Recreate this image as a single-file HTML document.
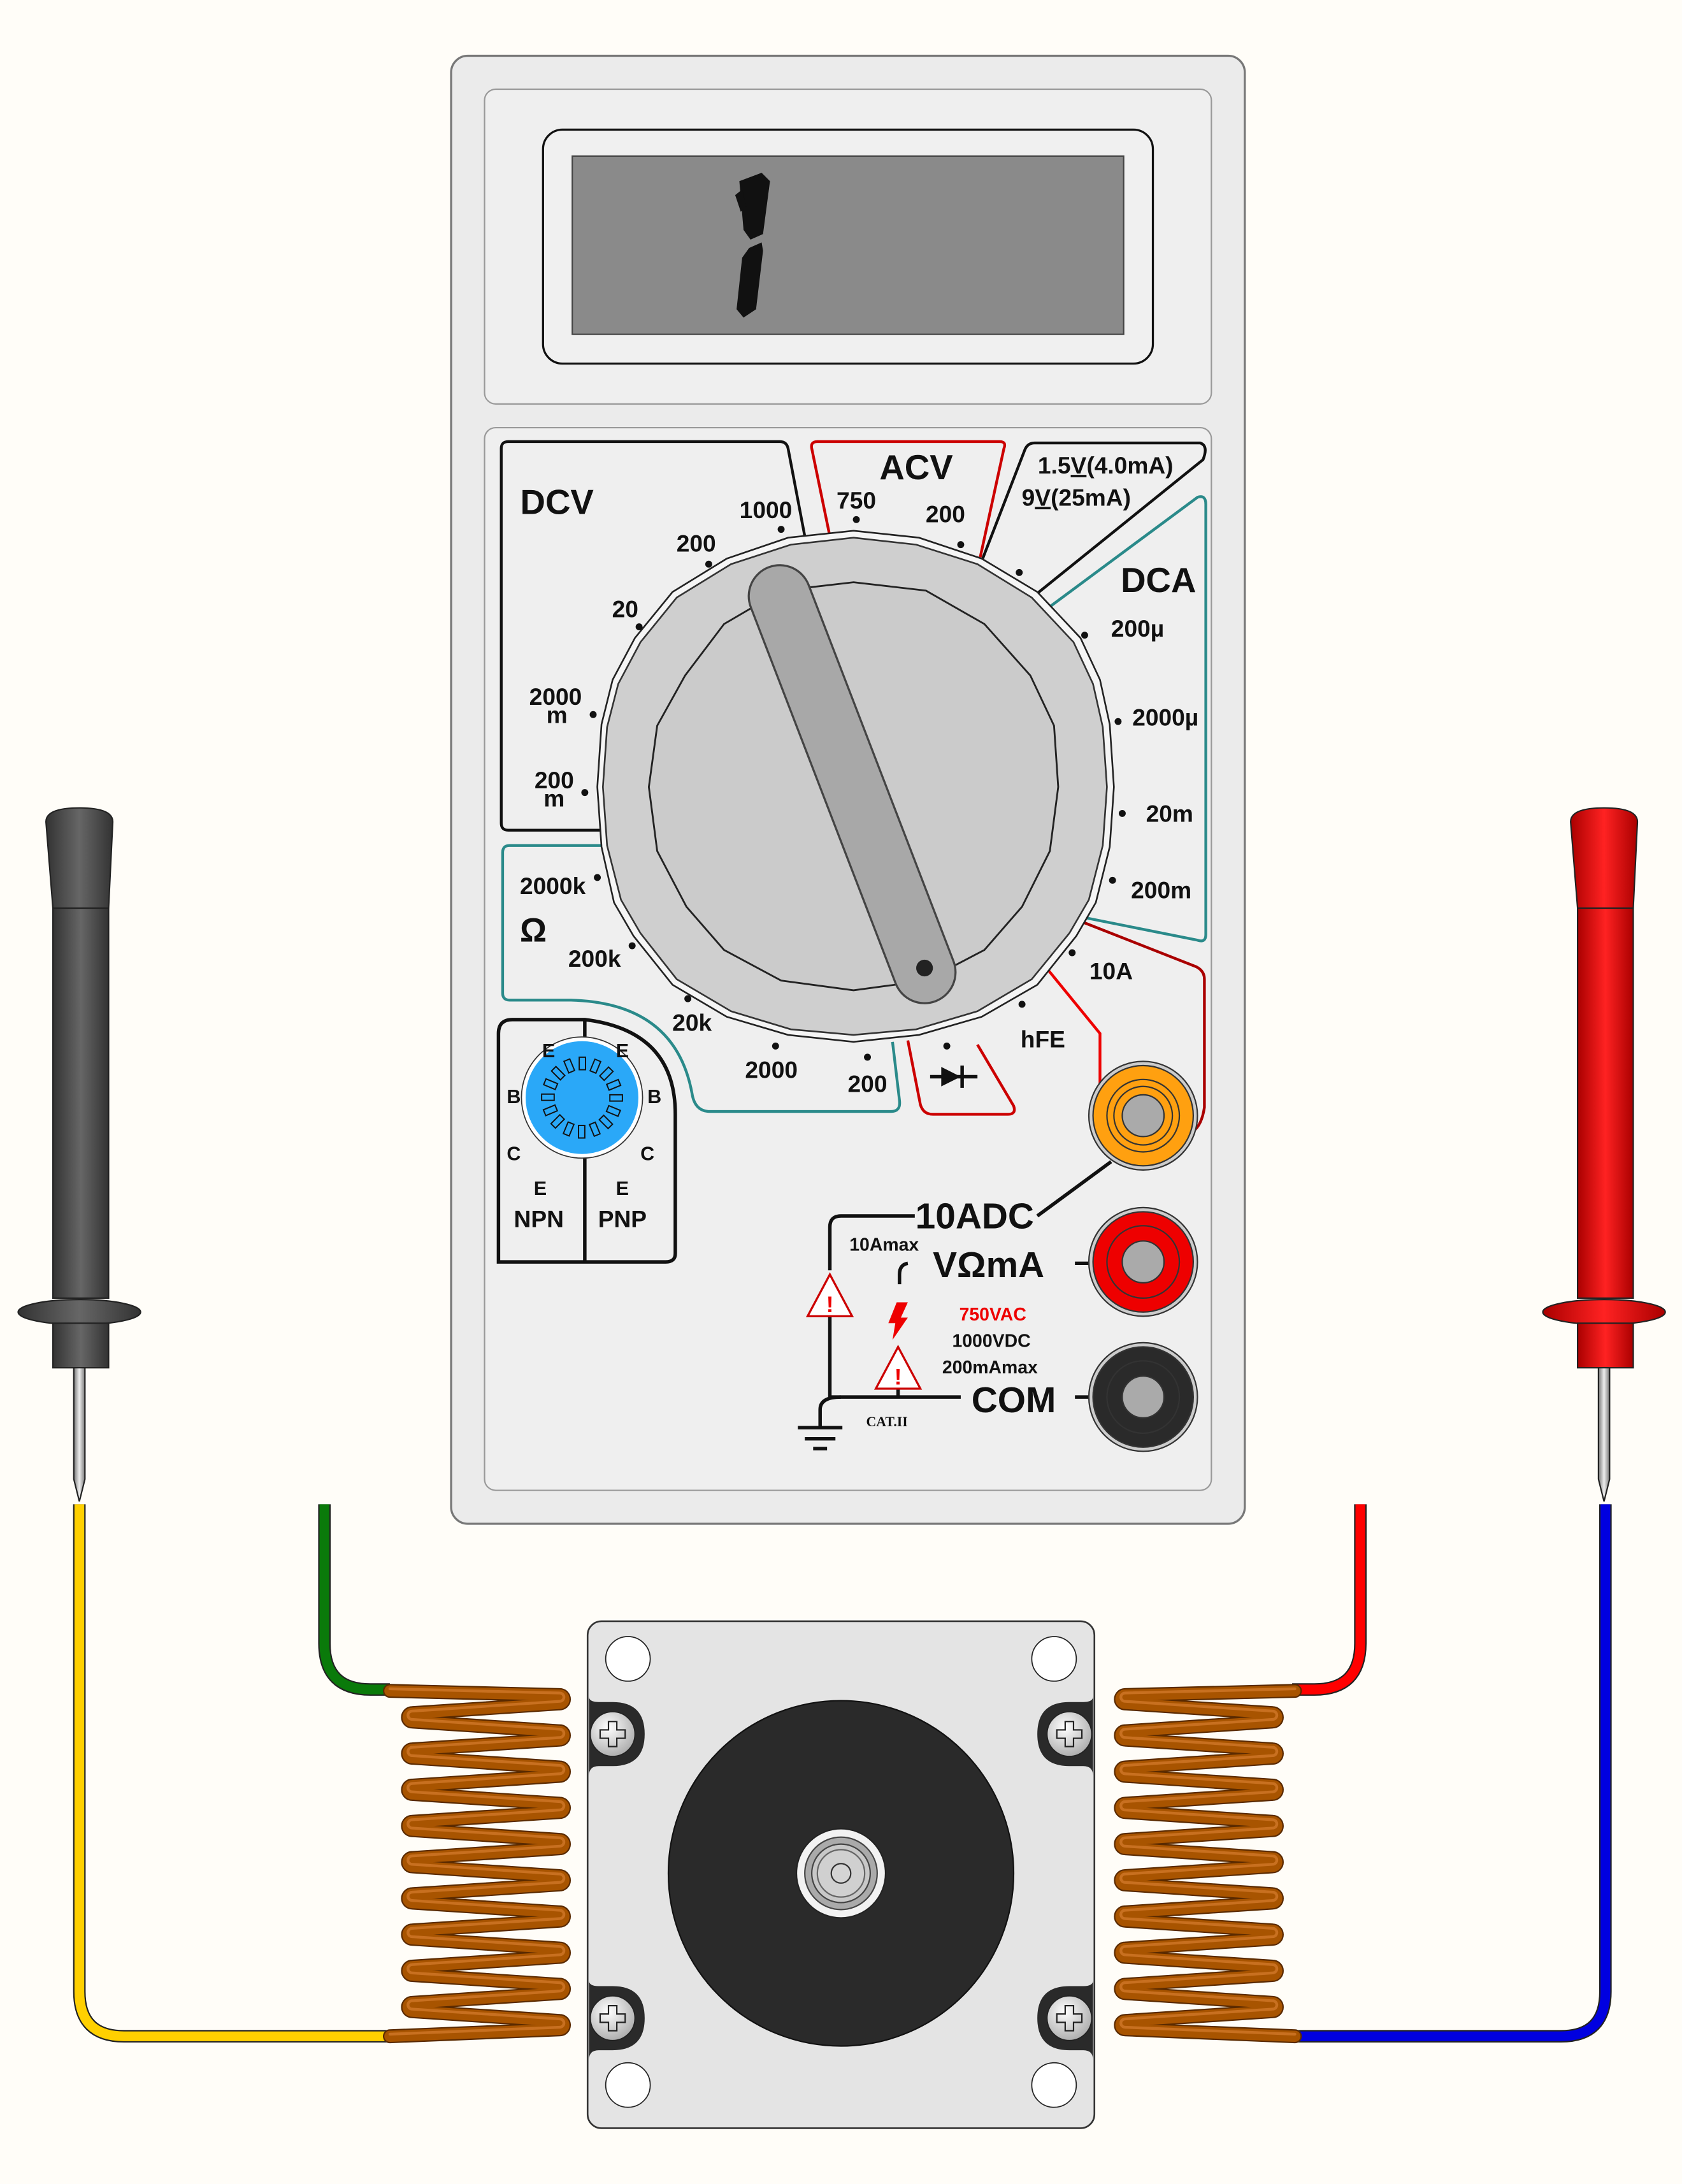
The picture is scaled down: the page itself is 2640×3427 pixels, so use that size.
<!DOCTYPE html>
<html><head><meta charset="utf-8"><style>
html,body{margin:0;padding:0;background:#fffdf8}
svg{display:block}
text{font-family:"Liberation Sans",sans-serif;font-weight:bold}
</style></head><body>
<svg width="2640" height="3427" viewBox="0 0 1208 1568" xmlns="http://www.w3.org/2000/svg">
<defs>
<radialGradient id="scr" cx="0.4" cy="0.35" r="0.7"><stop offset="0" stop-color="#fff"/><stop offset="1" stop-color="#aaa"/></radialGradient>
<linearGradient id="bl" x1="0" x2="1"><stop offset="0" stop-color="#333"/><stop offset="0.5" stop-color="#666"/><stop offset="1" stop-color="#333"/></linearGradient>
<linearGradient id="rd" x1="0" x2="1"><stop offset="0" stop-color="#a00"/><stop offset="0.5" stop-color="#f22"/><stop offset="1" stop-color="#a00"/></linearGradient>
<linearGradient id="ndl" x1="0" x2="1"><stop offset="0" stop-color="#777"/><stop offset="0.5" stop-color="#eee"/><stop offset="1" stop-color="#777"/></linearGradient>
<path id="coil" d="M280,1214 L402,1217 a3,3 0 0 1 0,6 l-106,7 a3,3 0 0 0 0,6 l106,7 a3,3 0 0 1 0,6 l-106,7 a3,3 0 0 0 0,6 l106,7 a3,3 0 0 1 0,6 l-106,7 a3,3 0 0 0 0,6 l106,7 a3,3 0 0 1 0,6 l-106,7 a3,3 0 0 0 0,6 l106,7 a3,3 0 0 1 0,6 l-106,7 a3,3 0 0 0 0,6 l106,7 a3,3 0 0 1 0,6 l-106,7 a3,3 0 0 0 0,6 l106,7 a3,3 0 0 1 0,6 l-106,7 a3,3 0 0 0 0,6 l106,7 a3,3 0 0 1 0,6 l-106,7 a3,3 0 0 0 0,6 l106,7 a3,3 0 0 1 0,6 l-106,7 a3,3 0 0 0 0,6 l106,7 a3,3 0 0 1 0,6 L280,1462"/>
</defs>
<rect width="1208" height="1568" fill="#fffdf8"/>

<rect x="324" y="40" width="570" height="1054" rx="12" fill="#ebebeb" stroke="#777" stroke-width="1.5"/>
<rect x="348" y="64" width="522" height="226" rx="8" fill="#efefef" stroke="#999"/>
<rect x="390" y="93" width="438" height="168" rx="14" fill="#f0f0f0" stroke="#111" stroke-width="1.5"/>
<rect x="411" y="112" width="396" height="128" fill="#8a8a8a" stroke="#444"/>
<polygon points="531,130 547,124 553,130 548,168 539,172 534,165" fill="#111"/>
<polygon points="538,178 547,174 548,180 543,222 534,228 529,222 533,185" fill="#111"/>
<polygon points="528,140 533,136 536,148 532,152" fill="#111"/>
<rect x="348" y="307" width="522" height="763" rx="8" fill="#efefef" stroke="#999"/>

<g fill="none" stroke-width="2">
<path d="M578,385 L566,322 Q565,317 560,317 L365,317 Q360,317 360,322 L360,591 Q360,596 365,596 L432,596" stroke="#111"/>
<path d="M596,385 L583,322 Q582,317 587,317 L718,317 Q723,317 721,322 L704,400" stroke="#c00"/>
<path d="M705,403 L736,323 Q738,318 743,318 L862,318 Q868,320 864,330 L740,430" stroke="#111"/>
<path d="M748,440 L860,357 Q866,355 866,362 L866,671 Q866,677 860,675 L775,658" stroke="#2a8a8a"/>
<path d="M775,661 L859,694 Q865,697 865,703 L865,795 Q863,808 857,812" stroke="#a00"/>
<path d="M750,693 L790,742 L790,785" stroke="#e00"/>
<path d="M652,747 L661,793 Q663,800 670,800 L724,800 Q730,800 728,794 L702,750" stroke="#c00"/>
<path d="M432,607 L366,607 Q361,607 361,612 L361,713 Q361,718 366,718 L410,718 Q485,720 497,785 Q499,798 510,798 L640,798 Q647,798 646,790 L641,748" stroke="#2a8a8a"/>
</g>

<path d="M358,906 L358,742 Q358,732 368,732 L420,732 Q485,740 485,800 L485,900 Q485,906 478,906 Z" fill="#efefef" stroke="#111" stroke-width="2.5"/>
<line x1="420" y1="732" x2="420" y2="906" stroke="#111" stroke-width="2.5"/>
<circle cx="418" cy="788" r="42" fill="#2aa8f8" stroke="#fff" stroke-width="3"/>
<circle cx="418" cy="788" r="43.5" fill="none" stroke="#333" stroke-width="0.8"/>
<g fill="none" stroke="#111" stroke-width="0.9">
<g id="sl"><rect x="416" y="759" width="4.5" height="9"/></g>
<use href="#sl" transform="rotate(22.5 418 788)"/><use href="#sl" transform="rotate(45 418 788)"/><use href="#sl" transform="rotate(67.5 418 788)"/><use href="#sl" transform="rotate(90 418 788)"/><use href="#sl" transform="rotate(112.5 418 788)"/><use href="#sl" transform="rotate(135 418 788)"/><use href="#sl" transform="rotate(157.5 418 788)"/><use href="#sl" transform="rotate(180 418 788)"/><use href="#sl" transform="rotate(202.5 418 788)"/><use href="#sl" transform="rotate(225 418 788)"/><use href="#sl" transform="rotate(247.5 418 788)"/><use href="#sl" transform="rotate(270 418 788)"/><use href="#sl" transform="rotate(292.5 418 788)"/><use href="#sl" transform="rotate(315 418 788)"/><use href="#sl" transform="rotate(337.5 418 788)"/>
</g>

<polygon points="613,381 660,386 705,401 745,425 776,458 790,488 797,520 800,565 797,608 787,648 773,672 745,707 705,730 660,743 613,748 566,743 522,730 483,707 455,672 441,648 432,608 429,565 432,520 440,488 456,458 483,425 522,401 566,386" fill="#f5f5f5" stroke="#222" stroke-width="1.2"/>
<polygon points="613,386 658,391 702,405 741,429 771,461 785,491 792,522 795,565 792,607 782,646 768,670 741,703 702,726 658,739 613,743 568,739 525,726 486,703 460,670 446,646 436,607 433,565 436,522 444,491 460,461 486,429 525,405 568,391" fill="#cfcfcf" stroke="#333" stroke-width="1.2"/>
<polygon points="613,418 665,424 707,448 740,485 757,521 760,565 754,611 734,651 707,682 665,704 613,711 561,704 520,682 493,651 472,611 466,565 472,521 492,485 520,448 561,424" fill="#cbcbcb" stroke="#222" stroke-width="1.3"/>
<line x1="560" y1="428" x2="664" y2="698" stroke="#444" stroke-width="46" stroke-linecap="round"/>
<line x1="560" y1="428" x2="664" y2="698" stroke="#a8a8a8" stroke-width="43" stroke-linecap="round"/>
<circle cx="664" cy="695" r="6" fill="#222"/>

<g fill="#111">
<circle cx="561" cy="380" r="2.5"/><circle cx="509" cy="405" r="2.5"/><circle cx="459" cy="450" r="2.5"/><circle cx="426" cy="513" r="2.5"/><circle cx="420" cy="569" r="2.5"/>
<circle cx="615" cy="373" r="2.5"/><circle cx="690" cy="391" r="2.5"/><circle cx="732" cy="411" r="2.5"/>
<circle cx="779" cy="456" r="2.5"/><circle cx="803" cy="518" r="2.5"/><circle cx="806" cy="584" r="2.5"/><circle cx="799" cy="632" r="2.5"/>
<circle cx="770" cy="684" r="2.5"/><circle cx="734" cy="721" r="2.5"/><circle cx="680" cy="751" r="2.5"/>
<circle cx="623" cy="759" r="2.5"/><circle cx="557" cy="751" r="2.5"/><circle cx="494" cy="717" r="2.5"/><circle cx="454" cy="679" r="2.5"/><circle cx="429" cy="630" r="2.5"/>
</g>

<g fill="#111" text-anchor="middle">
<text x="400" y="369" font-size="25">DCV</text>
<text x="550" y="372" font-size="17">1000</text>
<text x="500" y="396" font-size="17">200</text>
<text x="449" y="443" font-size="17">20</text>
<text x="399" y="506" font-size="17">2000</text><text x="400" y="519" font-size="17">m</text>
<text x="398" y="566" font-size="17">200</text><text x="398" y="579" font-size="17">m</text>
<text x="658" y="344" font-size="25">ACV</text>
<text x="615" y="365" font-size="17">750</text>
<text x="679" y="375" font-size="17">200</text>
<text x="794" y="340" font-size="17">1.5<tspan text-decoration="underline">V</tspan>(4.0mA)</text>
<text x="773" y="363" font-size="17">9<tspan text-decoration="underline">V</tspan>(25mA)</text>
<text x="832" y="425" font-size="25">DCA</text>
<text x="817" y="457" font-size="17">200µ</text>
<text x="837" y="521" font-size="17">2000µ</text>
<text x="840" y="590" font-size="17">20m</text>
<text x="834" y="645" font-size="17">200m</text>
<text x="798" y="703" font-size="17">10A</text>
<text x="749" y="752" font-size="17">hFE</text>
<text x="397" y="642" font-size="17">2000k</text>
<text x="383" y="676" font-size="24">Ω</text>
<text x="427" y="694" font-size="17">200k</text>
<text x="497" y="740" font-size="17">20k</text>
<text x="554" y="774" font-size="17">2000</text>
<text x="623" y="784" font-size="17">200</text>
<text x="394" y="759" font-size="14">E</text><text x="447" y="759" font-size="14">E</text>
<text x="369" y="792" font-size="14">B</text><text x="470" y="792" font-size="14">B</text>
<text x="369" y="833" font-size="14">C</text><text x="465" y="833" font-size="14">C</text>
<text x="388" y="858" font-size="14">E</text><text x="447" y="858" font-size="14">E</text>
<text x="387" y="881" font-size="17">NPN</text><text x="447" y="881" font-size="17">PNP</text>
<text x="700" y="882" font-size="26">10ADC</text>
<text x="635" y="898" font-size="13">10Amax</text>
<text x="710" y="917" font-size="26">VΩmA</text>
<text x="713" y="948" font-size="13" fill="#e00">750VAC</text>
<text x="712" y="967" font-size="13">1000VDC</text>
<text x="711" y="986" font-size="13">200mAmax</text>
<text x="728" y="1014" font-size="26">COM</text>
<text x="637" y="1024" font-size="10" font-weight="normal" style="font-family:'Liberation Serif',serif">CAT.II</text>
</g>
<polygon points="676,766 676,780 690,773" fill="#111"/>
<line x1="668" y1="773" x2="702" y2="773" stroke="#111" stroke-width="2.5"/>
<line x1="691" y1="765" x2="691" y2="781" stroke="#111" stroke-width="2.5"/>

<g fill="none" stroke="#111" stroke-width="2.5">
<line x1="798" y1="834" x2="745" y2="873"/>
<path d="M657,873 L604,873 Q596,873 596,881 L596,912"/>
<path d="M596,943 L596,1003 L690,1003"/>
<path d="M604,1003 Q589,1003 589,1012 L589,1025"/>
<line x1="573" y1="1025" x2="605" y2="1025"/><line x1="578" y1="1033" x2="600" y2="1033"/><line x1="584" y1="1040" x2="594" y2="1040"/>
<path d="M652,907 Q646,908 646,915 L646,922"/>
<line x1="645" y1="997" x2="645" y2="1003"/>
<line x1="772" y1="907" x2="784" y2="907"/><line x1="772" y1="1003" x2="784" y2="1003"/>
</g>
<polygon points="596,915 580,945 612,945" fill="#fff" stroke="#c00" stroke-width="1.5"/>
<text x="596" y="942" font-size="16" fill="#e00" text-anchor="middle">!</text>
<polygon points="645,967 629,997 661,997" fill="#fff" stroke="#c00" stroke-width="1.5"/>
<text x="645" y="994" font-size="16" fill="#e00" text-anchor="middle">!</text>
<polygon points="644,935 652,935 647,946 652,946 641,962 643,950 638,950" fill="#e00"/>

<g stroke="#333" stroke-width="1">
<circle cx="821" cy="801" r="39" fill="#ccc"/><circle cx="821" cy="801" r="36" fill="#ffa010"/><circle cx="821" cy="801" r="26" fill="none"/><circle cx="821" cy="801" r="21" fill="none"/><circle cx="821" cy="801" r="15" fill="#aaa"/>
<circle cx="821" cy="906" r="39" fill="#ccc"/><circle cx="821" cy="906" r="36" fill="#e00"/><circle cx="821" cy="906" r="26" fill="none"/><circle cx="821" cy="906" r="15" fill="#aaa"/>
<circle cx="821" cy="1003" r="39" fill="#ccc"/><circle cx="821" cy="1003" r="36" fill="#2a2a2a"/><circle cx="821" cy="1003" r="26" fill="none"/><circle cx="821" cy="1003" r="15" fill="#aaa"/>
</g>

<g stroke="#222" stroke-width="1">
<path d="M33,590 Q33,580 57,580 Q81,580 81,590 L78,652 L38,652 Z" fill="url(#bl)"/>
<rect x="38" y="652" width="40" height="280" fill="url(#bl)"/>
<ellipse cx="57" cy="942" rx="44" ry="9" fill="url(#bl)"/>
<rect x="38" y="950" width="40" height="32" fill="url(#bl)"/>
<polygon points="53,982 61,982 61,1062 57,1078 53,1062" fill="url(#ndl)"/>
<path d="M1128,590 Q1128,580 1152,580 Q1176,580 1176,590 L1173,652 L1133,652 Z" fill="url(#rd)"/>
<rect x="1133" y="652" width="40" height="280" fill="url(#rd)"/>
<ellipse cx="1152" cy="942" rx="44" ry="9" fill="url(#rd)"/>
<rect x="1133" y="950" width="40" height="32" fill="url(#rd)"/>
<polygon points="1148,982 1156,982 1156,1062 1152,1078 1148,1062" fill="url(#ndl)"/>
</g>

<g fill="none" stroke-width="7">
<path d="M57,1080 L57,1430 Q57,1462 89,1462 L282,1462" stroke="#222" stroke-width="9"/>
<path d="M57,1080 L57,1430 Q57,1462 89,1462 L282,1462" stroke="#ffd000"/>
<path d="M233,1080 L233,1180 Q233,1213 266,1213 L280,1213" stroke="#222" stroke-width="9"/>
<path d="M233,1080 L233,1180 Q233,1213 266,1213 L280,1213" stroke="#0a7a0a"/>
<path d="M977,1080 L977,1180 Q977,1213 944,1213 L928,1213" stroke="#222" stroke-width="9"/>
<path d="M977,1080 L977,1180 Q977,1213 944,1213 L928,1213" stroke="#f00"/>
<path d="M1153,1080 L1153,1430 Q1153,1462 1121,1462 L928,1462" stroke="#222" stroke-width="9"/>
<path d="M1153,1080 L1153,1430 Q1153,1462 1121,1462 L928,1462" stroke="#0000e0"/>
</g>

<g fill="none" stroke-linecap="round" stroke-linejoin="round">
<use href="#coil" stroke="#5a2a00" stroke-width="10"/>
<use href="#coil" stroke="#a85400" stroke-width="8"/>
<use href="#coil" stroke="#c87020" stroke-width="2" transform="translate(0,-1.5)"/>
<g transform="translate(1210,0) scale(-1,1)">
<use href="#coil" stroke="#5a2a00" stroke-width="10"/>
<use href="#coil" stroke="#a85400" stroke-width="8"/>
<use href="#coil" stroke="#c87020" stroke-width="2" transform="translate(0,-1.5)"/>
</g>
</g>

<rect x="422" y="1164" width="364" height="364" rx="10" fill="#e4e4e4" stroke="#333" stroke-width="1.2"/>
<g fill="#2a2a2a">
<path d="M423,1218 Q423,1222 430,1222 L440,1222 Q463,1222 463,1245 Q463,1268 440,1268 L430,1268 Q423,1268 423,1275 Z"/>
<path d="M423,1422 Q423,1426 430,1426 L440,1426 Q463,1426 463,1449 Q463,1472 440,1472 L430,1472 Q423,1472 423,1479 Z"/>
<path d="M785,1218 Q785,1222 778,1222 L768,1222 Q745,1222 745,1245 Q745,1268 768,1268 L778,1268 Q785,1268 785,1275 Z"/>
<path d="M785,1422 Q785,1426 778,1426 L768,1426 Q745,1426 745,1449 Q745,1472 768,1472 L778,1472 Q785,1472 785,1479 Z"/>
</g>
<g stroke="#222" stroke-width="0.8">
<circle cx="440" cy="1245" r="16" fill="url(#scr)"/><circle cx="440" cy="1449" r="16" fill="url(#scr)"/>
<circle cx="768" cy="1245" r="16" fill="url(#scr)"/><circle cx="768" cy="1449" r="16" fill="url(#scr)"/>
<g fill="#fff"><circle cx="451" cy="1191" r="16"/><circle cx="757" cy="1191" r="16"/><circle cx="451" cy="1497" r="16"/><circle cx="757" cy="1497" r="16"/></g>
</g>
<g fill="none" stroke="#222" stroke-width="1">
<path d="M437,1236 h6 v6 h6 v6 h-6 v6 h-6 v-6 h-6 v-6 h6 z"/>
<path d="M437,1440 h6 v6 h6 v6 h-6 v6 h-6 v-6 h-6 v-6 h6 z"/>
<path d="M765,1236 h6 v6 h6 v6 h-6 v6 h-6 v-6 h-6 v-6 h6 z"/>
<path d="M765,1440 h6 v6 h6 v6 h-6 v6 h-6 v-6 h-6 v-6 h6 z"/>
</g>
<circle cx="604" cy="1345" r="124" fill="#2a2a2a" stroke="#111"/>
<circle cx="604" cy="1345" r="32" fill="#f2f2f2" stroke="#222"/>
<circle cx="604" cy="1345" r="26" fill="#aaa" stroke="#444"/>
<circle cx="604" cy="1345" r="21" fill="#c8c8c8" stroke="#444"/>
<circle cx="604" cy="1345" r="17" fill="#d0d0d0" stroke="#666"/>
<circle cx="604" cy="1345" r="7" fill="#d4d4d4" stroke="#333"/>
</svg>
</body></html>
